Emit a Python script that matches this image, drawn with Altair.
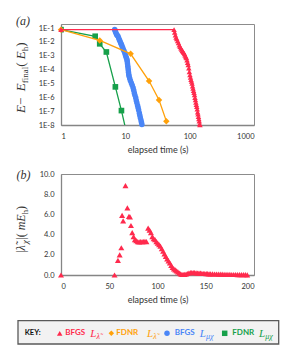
import altair as alt
import pandas as pd

RED = "#FF2A4D"
ORANGE = "#FFA10A"
BLUE = "#4A86F7"
GREEN = "#16A04A"
TXT = "#333333"
SANS = "Lato"
SERIF = "Liberation Serif"

# ---------------- panel (a): E - E_final vs elapsed time ----------------
red_t = [1, 57.2, 58.5, 60, 61.5, 63, 65, 67, 69, 71, 73, 75, 77, 79, 81, 83, 85, 87, 89,
         91, 93, 95, 97, 99, 101, 103, 105, 107, 109, 111, 113, 115, 117, 119, 121, 123,
         125, 127, 129, 131, 133, 135, 137, 139, 141, 143, 144.5]
red_v = [0.078, 0.078, 0.05, 0.032, 0.022, 0.017, 0.012, 8.5e-3, 6e-3, 4.6e-3, 3.6e-3, 2.9e-3,
         2.4e-3, 2e-3, 1.7e-3, 1.4e-3, 1.1e-3, 8.5e-4, 7e-4, 4.8e-4, 3.2e-4, 2.2e-4, 1.3e-4,
         7e-5, 4.2e-5, 2.8e-5, 1.9e-5, 1.4e-5, 1e-5, 6.5e-6, 4.5e-6, 3.1e-6, 2.2e-6, 1.5e-6,
         9.5e-7, 6.5e-7, 4.3e-7, 3e-7, 2.1e-7, 1.4e-7, 8.5e-8, 6e-8, 4e-8, 2.8e-8, 1.9e-8,
         1.2e-8, 1e-8]

blue_t = [6.84, 6.95, 7.05, 7.2, 7.35, 7.5, 7.7, 7.9, 8.1, 8.3, 8.5, 8.7, 8.9, 9.1, 9.3, 9.55,
          9.8, 10.0, 10.2, 10.4, 10.6, 10.7, 10.8, 10.9, 11.0, 11.1, 11.2, 11.3, 11.45, 11.7,
          12.0, 12.4, 12.8, 13.2, 13.5, 13.8, 14.1, 14.5, 14.8, 15.1, 15.5, 15.8, 16.1, 16.5,
          16.8, 17.1, 17.5, 17.8, 18.1]
blue_v = [0.08, 0.065, 0.052, 0.042, 0.034, 0.03, 0.026, 0.019, 0.014, 0.011, 8e-3, 6.5e-3,
          5e-3, 3.8e-3, 2.9e-3, 2.2e-3, 1.7e-3, 1.2e-3, 9e-4, 7e-4, 5.5e-4, 4e-4, 2.8e-4,
          1.9e-4, 1.4e-4, 9.5e-5, 6.5e-5, 4.5e-5, 3.3e-5, 2.3e-5, 1.6e-5, 1.1e-5, 7.5e-6,
          4.9e-6, 3.2e-6, 2.1e-6, 1.4e-6, 9.3e-7, 6e-7, 4e-7, 2.6e-7, 1.8e-7, 1.2e-7, 7.5e-8,
          5e-8, 3.4e-8, 2.3e-8, 1.6e-8, 1.1e-8]

orange_t = [1, 4.0, 12.1, 23.4, 33.4, 43.4]
orange_v = [0.078, 0.013, 1.4e-3, 1.5e-5, 6.5e-7, 1.9e-8]

green_t = [1, 3.4, 4.0, 5.07, 7.0, 8.7, 10.4]
green_v = [0.078, 0.026, 7.4e-3, 1.9e-3, 5.7e-6, 1.1e-7, 3e-9]

# ---------------- panel (b): |lambda_chi| vs elapsed time ----------------
b_t = [0, 55.5, 59, 60.8, 62.5, 63.3, 64.4, 66.8, 68.8, 70.4, 71.5, 72.5, 73.8, 75.2, 76.5,
       78, 79.5, 81, 82.5, 84, 85.5, 87, 88.5, 90.3, 91.8, 93.2, 94.6, 96, 97.4, 98.8, 100.2,
       101.6, 103, 104.4, 105.8, 107.2, 108.6, 110, 111.4, 112.8, 114.2, 115.6, 117, 118.4,
       119.8, 121.2, 122.6, 124, 125.4, 126.8, 128.2, 129.6, 131, 132.5, 134, 135.5, 137,
       138.5, 140, 141.5, 143, 144.5, 146, 147.5, 149, 150.5, 152, 153.5, 155, 157, 159, 161,
       163, 165, 167, 169, 171, 173, 175, 177, 179, 181, 183, 185, 187, 189, 191, 193]
b_v = [0, 0, 1.45, 2.0, 2.7, 5.9, 5.35, 8.85, 6.65, 5.8, 5.75, 4.9, 4.2, 3.8, 3.5, 3.4, 3.3,
       3.28, 3.3, 3.3, 3.3, 3.32, 3.3, 4.65, 4.45, 4.2, 3.8, 3.6, 3.5, 3.3, 3.15, 3.0, 2.85,
       2.6, 2.35, 2.1, 1.85, 1.6, 1.4, 1.2, 0.95, 0.75, 0.6, 0.5, 0.4, 0.3, 0.2, 0.12, 0.07,
       0.05, 0.07, 0.1, 0.15, 0.2, 0.23, 0.25, 0.25, 0.23, 0.22, 0.2, 0.2, 0.18, 0.17, 0.15,
       0.15, 0.14, 0.13, 0.12, 0.12, 0.11, 0.1, 0.1, 0.09, 0.08, 0.08, 0.07, 0.07, 0.06, 0.06,
       0.05, 0.05, 0.05, 0.04, 0.04, 0.03, 0.03, 0.03, 0.02]

# key entries
key_method = ["BFGS", "FDNR", "BFGS", "FDNR"]
key_space = ["λ̃", "λ̃", "μχ", "μχ"]
key_color = [RED, ORANGE, BLUE, GREEN]
key_shape = ["triangle-up", "diamond", "circle", "square"]

W, H = 193, 101
one = pd.DataFrame({"k": [0]})

# approximate advance widths (em) for layout of composed math titles
UP = {" ": .25, "(": .333, ")": .333, "|": .2, "−": .564, "f": .333, "i": .278, "n": .5,
      "a": .444, "l": .278, "h": .5}
IT = {"E": .611, "m": .722, "λ": .55, "L": .556, "μ": .5, "χ": .5, "\u0303": 0}


def width(text, size, italic):
    tab = IT if italic else UP
    return sum(tab.get(c, .5) for c in text) * size


def txt(text, x, y, **kw):
    return alt.Chart(one).mark_text(text=text, **kw).encode(x=alt.value(x), y=alt.value(y))


def rot_title(pieces, x0, y_start, color=TXT):
    layers = []
    pos = y_start
    for text, size, italic, sub in pieces:
        layers.append(txt(text, x0 + (3 if sub else 0), pos, font=SERIF, fontSize=size,
                          fontStyle="italic" if italic else "normal", angle=270,
                          align="left", baseline="alphabetic", color=color))
        pos -= width(text, size, italic)
    return layers


def df(t, v):
    return pd.DataFrame({"t": t, "v": v})


xa = alt.X("t:Q", scale=alt.Scale(type="log", domain=[1, 1000], nice=False),
           axis=alt.Axis(values=[1, 10, 100, 1000], format="d", title="elapsed time (s)"))
ya = alt.Y("v:Q", scale=alt.Scale(type="log", domain=[1e-8, 0.2], nice=False),
           axis=alt.Axis(values=[1e-1, 1e-2, 1e-3, 1e-4, 1e-5, 1e-6, 1e-7, 1e-8],
                         labelExpr="'1E' + round(log(datum.value)/LN10)", title=None))


def series(t, v, color, shape, size, clip=False):
    base = alt.Chart(df(t, v)).encode(x=xa, y=ya)
    return [base.mark_line(color=color, strokeWidth=1.3, clip=clip),
            base.mark_point(shape=shape, filled=True, size=size, color=color, opacity=1,
                            clip=clip)]


a_layers = []
a_layers += series(blue_t, blue_v, BLUE, "circle", 30)
a_layers += series(green_t, green_v, GREEN, "square", 32, clip=True)
a_layers += series(orange_t, orange_v, ORANGE, "diamond", 42)
a_layers += series(red_t, red_v, RED, "triangle-up", 30)

ma = 13
sa = 9
a_layers += rot_title([("E", ma, True, False), (" − ", ma, False, False), ("E", ma, True, False),
                       ("final", sa, False, True), (" (", ma, False, False),
                       ("E", ma, True, False), ("h", sa, False, True), (")", ma, False, False)],
                      -36.5, 89)
a_layers.append(txt("(a)", -38, -3, font=SERIF, fontSize=12, fontStyle="italic",
                    align="center", baseline="middle", color=TXT))

panel_a = alt.layer(*a_layers).properties(width=W, height=H)

# ---------------- panel (b) ----------------
xb = alt.X("t:Q", scale=alt.Scale(domain=[0, 200], nice=False),
           axis=alt.Axis(values=[0, 50, 100, 150, 200], title="elapsed time (s)"))
yb = alt.Y("v:Q", scale=alt.Scale(domain=[0, 10], nice=False),
           axis=alt.Axis(values=[0, 2, 4, 6, 8, 10], format=".1f", title=None))

b_layers = [alt.Chart(df(b_t, b_v)).mark_point(shape="triangle-up", filled=True, size=36,
                                                 color=RED, opacity=1).encode(x=xb, y=yb)]
mb = 12
sb = 8.5
b_layers += rot_title([("|", mb, False, False), ("λ\u0303", mb, True, False),
                       ("χ", sb, True, True), ("|", mb, False, False), (" (", mb, False, False),
                       ("m", mb, True, False), ("E", mb, True, False), ("h", sb, False, True),
                       (")", mb, False, False)], -36, 79)
b_layers.append(txt("(b)", -37.5, 1, font=SERIF, fontSize=12, fontStyle="italic",
                    align="center", baseline="middle", color=TXT))

# key box
KY = 159.3
b_layers.append(alt.Chart(one).mark_rect(fill="#F2F2F2", stroke="#595959", strokeWidth=1.3)
                .encode(x=alt.value(-43), x2=alt.value(217.7), y=alt.value(146.7),
                        y2=alt.value(170)))
b_layers.append(txt("KEY:", -36.3, KY, font=SANS, fontSize=7.5, fontWeight="bold",
                    align="left", baseline="middle", color="#111111"))
sym_x = [-1.3, 50.3, 106, 163.7]
meth_x = [4.3, 55.3, 113.7, 171.3]
L_x = [29.3, 86, 138.7, 198]
for i in range(4):
    b_layers.append(alt.Chart(one).mark_point(shape=key_shape[i], filled=True, size=30,
                                              color=key_color[i], opacity=1)
                    .encode(x=alt.value(sym_x[i]), y=alt.value(KY)))
    b_layers.append(txt(key_method[i], meth_x[i], KY, font=SANS, fontSize=8, fontWeight="bold",
                        align="left", baseline="middle", color=key_color[i]))
    b_layers.append(txt("L", L_x[i], KY + 3.5, font=SERIF, fontSize=11, fontStyle="italic",
                        align="left", baseline="alphabetic", color=key_color[i]))
    b_layers.append(txt(key_space[i], L_x[i] + 6.3, KY + 5.5, font=SERIF, fontSize=8,
                        fontStyle="italic", align="left", baseline="alphabetic",
                        color=key_color[i]))

panel_b = alt.layer(*b_layers).properties(width=W, height=H)

chart = alt.vconcat(panel_a, panel_b, spacing=13).properties(
    padding={"left": 5, "top": 6, "right": 5, "bottom": 5}
).configure_view(stroke="#8C8C8C", strokeWidth=1).configure_axis(
    domainColor="#858585", domainWidth=1.3, ticks=False, grid=False,
    labelFont=SANS, labelFontSize=7.5, labelColor=TXT, labelPadding=7,
    titleFont=SANS, titleFontSize=9, titleFontWeight="normal", titleColor=TXT, titlePadding=6
)

chart.save("out.html", embed_options={"renderer": "svg", "actions": False})
